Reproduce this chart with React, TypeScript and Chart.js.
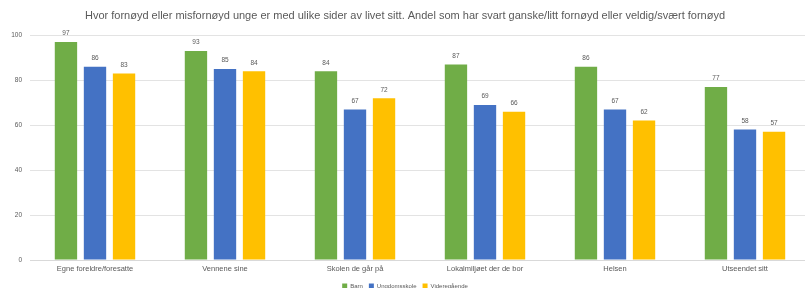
import React, { useEffect, useRef } from "react";
import { Chart, registerables } from "chart.js";

Chart.register(...registerables);

const titleText =
  "Hvor fornøyd eller misfornøyd unge er med ulike sider av livet sitt. Andel som har svart ganske/litt fornøyd eller veldig/svært fornøyd";

const categories = [
  "Egne foreldre/foresatte",
  "Vennene sine",
  "Skolen de går på",
  "Lokalmiljøet der de bor",
  "Helsen",
  "Utseendet sitt",
];

const seriesNames = ["Barn", "Ungdomsskole", "Videregående"];
const seriesA = [97, 93, 84, 87, 86, 77];
const seriesB = [86, 85, 67, 69, 67, 58];
const seriesC = [83, 84, 72, 66, 62, 57];
const yTicks = [0, 20, 40, 60, 80, 100];

const colors = ["#70AD47", "#4472C4", "#FFC000"];
const FONT = "'Liberation Sans', Arial, sans-serif";

const valueLabels = {
  id: "valueLabels",
  afterDatasetsDraw(chart: any) {
    const ctx = chart.ctx;
    ctx.save();
    ctx.font = `6.5px ${FONT}`;
    ctx.fillStyle = "#595959";
    ctx.textAlign = "center";
    ctx.textBaseline = "bottom";
    chart.data.datasets.forEach((ds: any, i: number) => {
      const meta = chart.getDatasetMeta(i);
      meta.data.forEach((el: any, j: number) => {
        ctx.fillText(String(ds.data[j]), el.x, el.y - 5);
      });
    });
    ctx.restore();
  },
};

export default function App() {
  const ref = useRef<HTMLCanvasElement>(null);
  useEffect(() => {
    if (!ref.current) return;
    const series = [seriesA, seriesB, seriesC];
    const chart = new Chart(ref.current, {
      type: "bar",
      data: {
        labels: categories,
        datasets: series.map((d, i) => ({
          label: seriesNames[i],
          data: d,
          backgroundColor: colors[i],
          borderWidth: 0,
          categoryPercentage: 0.67,
          barPercentage: 0.77,
        })),
      },
      options: {
        animation: false,
        responsive: false,
        maintainAspectRatio: false,
        layout: { padding: { left: 0, right: 0, top: 0, bottom: 0 } },
        plugins: {
          title: {
            display: true,
            text: titleText,
            color: "#595959",
            font: { size: 11, family: FONT, weight: "normal" },
            padding: { top: 9, bottom: 13 },
          },
          legend: {
            position: "bottom",
            labels: {
              color: "#595959",
              font: { size: 6, family: FONT },
              boxWidth: 5,
              boxHeight: 5,
              padding: 6,
            },
          },
          tooltip: { enabled: false },
        },
        scales: {
          x: {
            grid: { display: false, drawTicks: false },
            border: { color: "#d9d9d9" },
            ticks: {
              color: "#595959",
              font: { size: 7.5, family: FONT },
              padding: 4,
              maxRotation: 0,
            },
          },
          y: {
            min: 0,
            max: 100,
            afterBuildTicks: (axis: any) => {
              axis.ticks = yTicks.map((v) => ({ value: v }));
            },
            afterFit: (axis: any) => {
              axis.width = 30;
            },
            grid: { color: "#e3e3e3", drawTicks: false },
            border: { display: false },
            ticks: {
              color: "#595959",
              font: { size: 6.5, family: FONT },
              padding: 8,
            },
          },
        },
      },
      plugins: [valueLabels],
    });
    return () => chart.destroy();
  }, []);
  return (
    <div
      style={{
        position: "fixed",
        left: 0,
        top: 0,
        width: 805,
        height: 288,
        overflow: "hidden",
        background: "#fff",
      }}
    >
      <canvas ref={ref} width={810} height={299} style={{ display: "block" }} />
    </div>
  );
}
